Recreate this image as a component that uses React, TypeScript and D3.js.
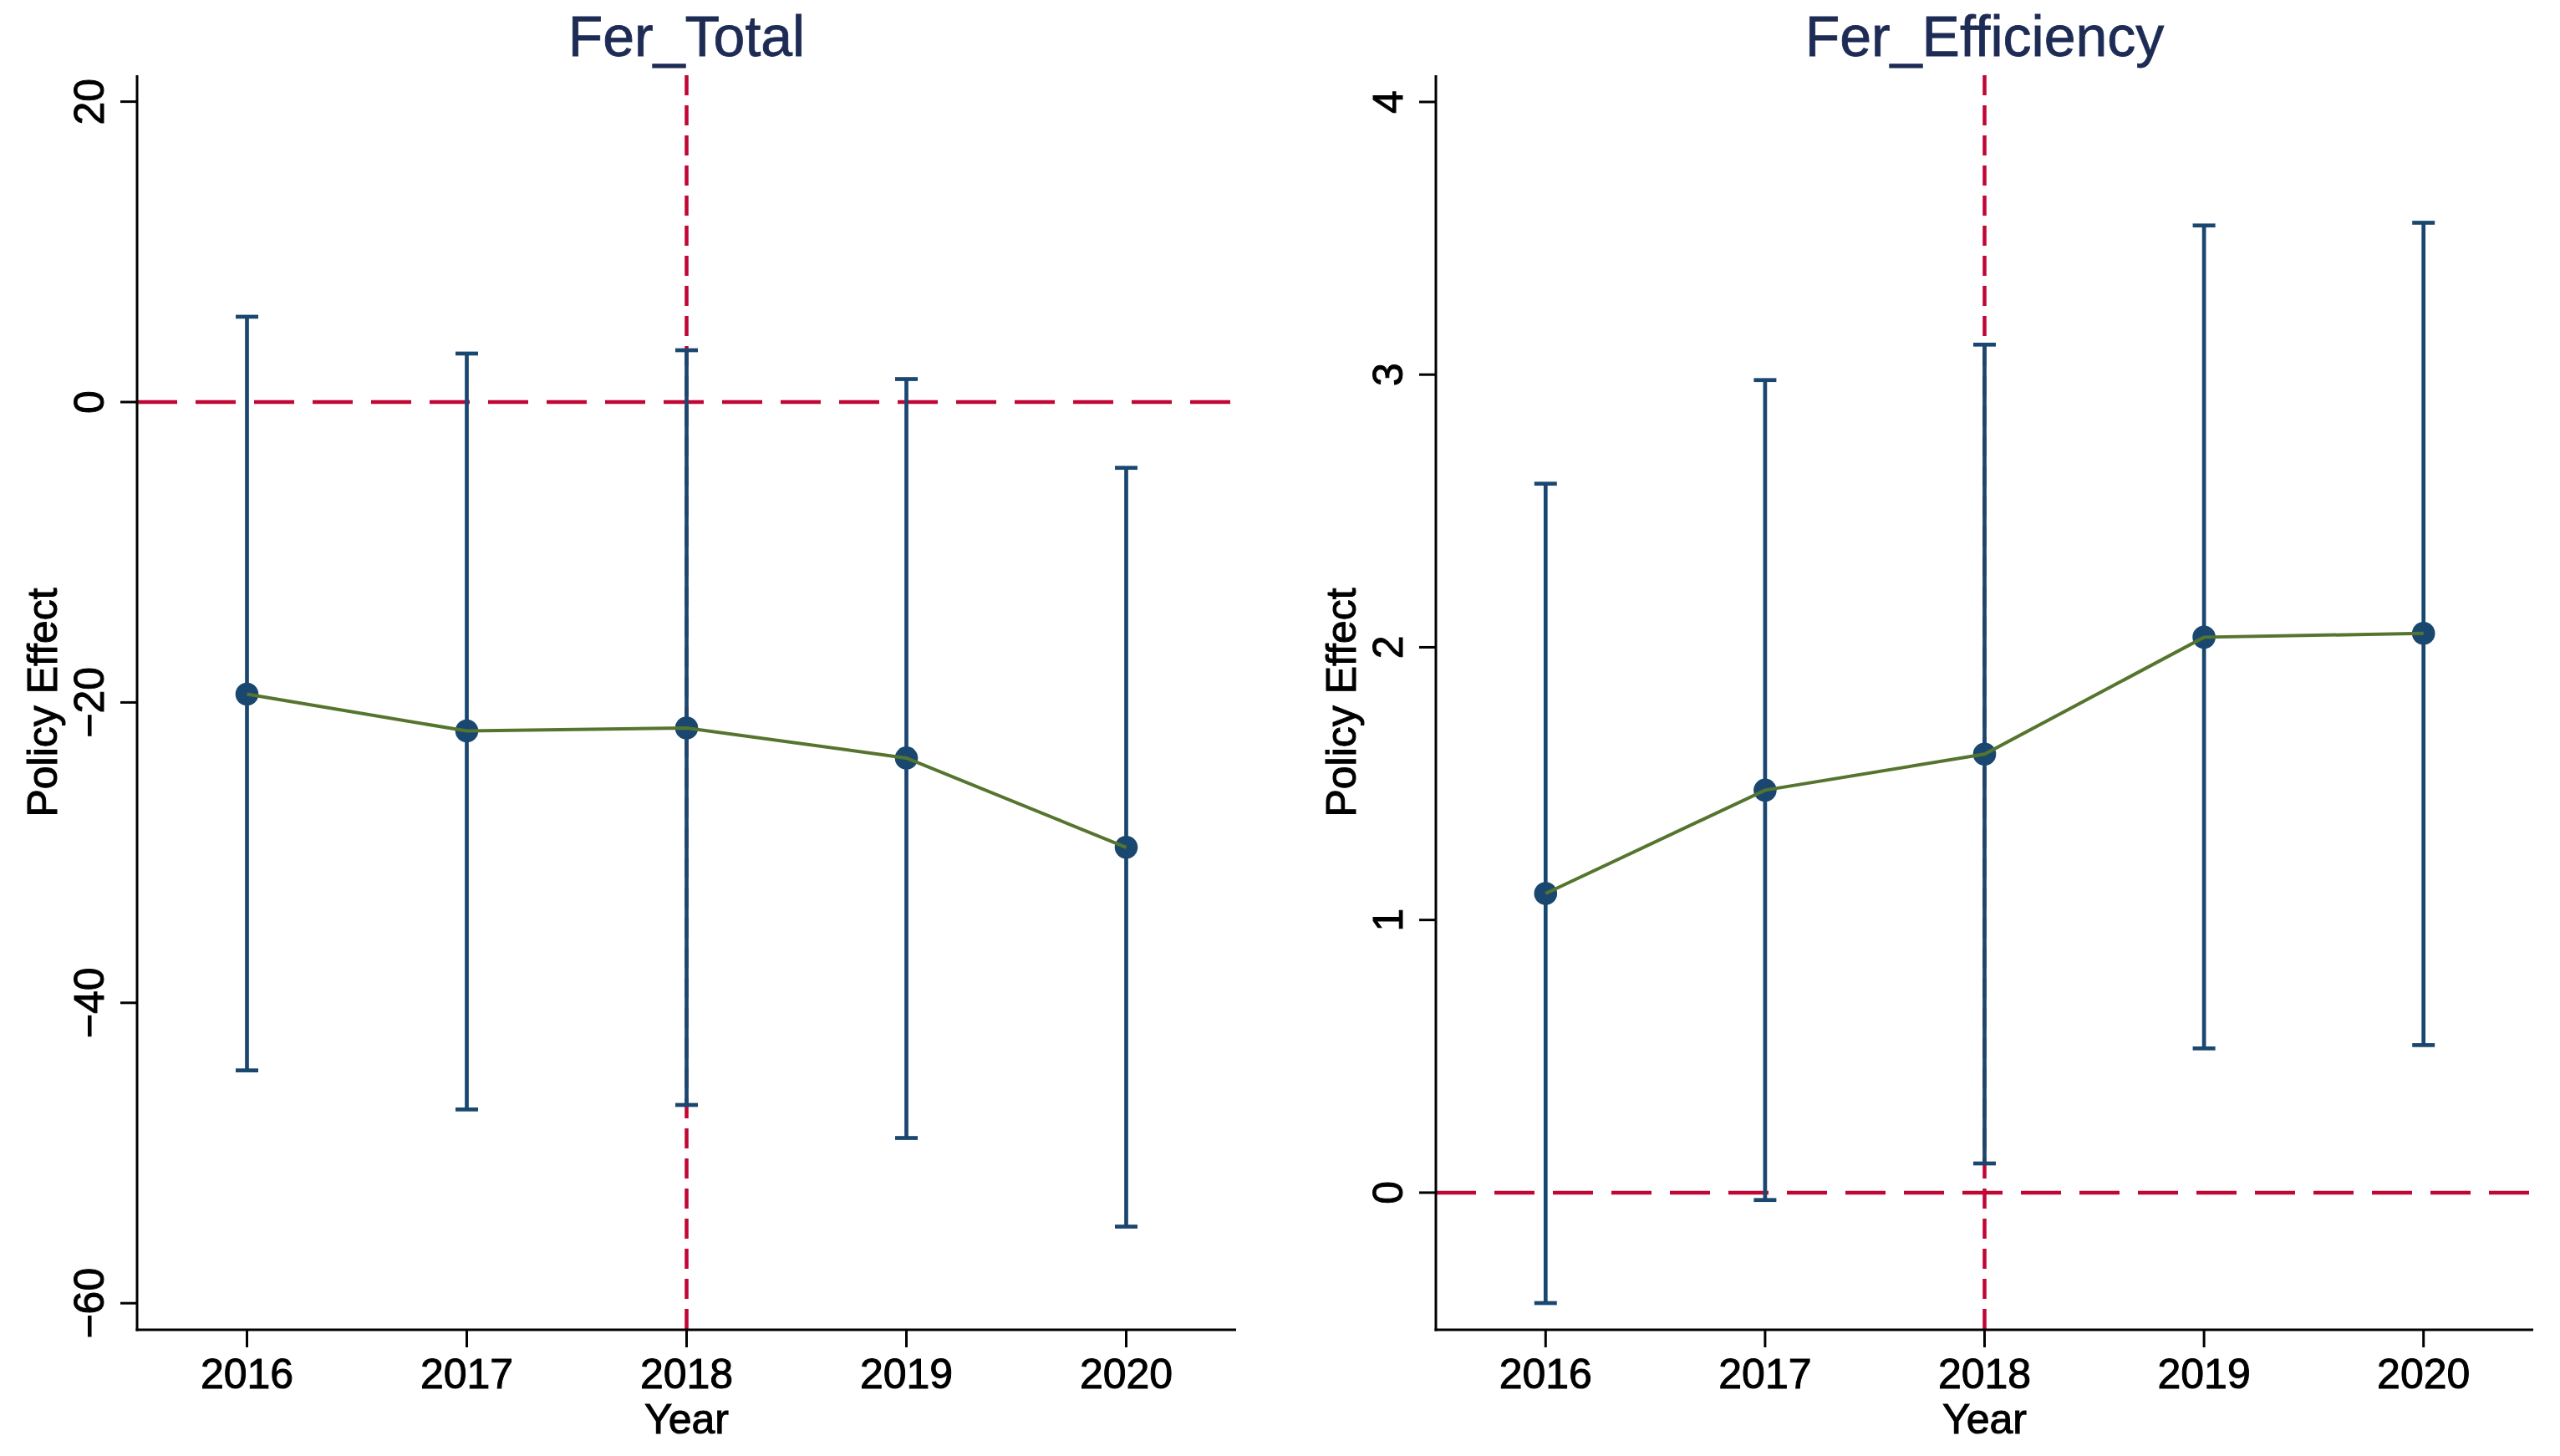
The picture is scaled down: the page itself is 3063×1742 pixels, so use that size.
import React from 'react';
import * as d3 from 'd3';

// event-study estimates
const years = [2016, 2017, 2018, 2019, 2020];
const policyYear = 2018;

const totalCoef = [-19.45, -21.9, -21.7, -23.7, -29.65];
const totalLower = [-44.5, -47.1, -46.8, -49.0, -54.9];
const totalUpper = [5.68, 3.23, 3.45, 1.53, -4.38];
const totalTicks = [-60, -40, -20, 0, 20];
const totalRange = [-61.77, 21.76];

const effCoef = [1.097, 1.476, 1.608, 2.037, 2.051];
const effLower = [-0.405, -0.027, 0.107, 0.529, 0.541];
const effUpper = [2.6, 2.98, 3.11, 3.547, 3.557];
const effTicks = [0, 1, 2, 3, 4];
const effRange = [-0.503, 4.098];

const W = 3063;
const H = 1742;
const FONT = '"Liberation Sans", Arial, Helvetica, sans-serif';
const NAVY = '#1a476f';
const GREEN = '#55752f';
const RED = '#c10534';
const TITLE = '#1e2c55';

interface PanelProps {
  title: string;
  left: number;
  right: number;
  coef: number[];
  lower: number[];
  upper: number[];
  ticks: number[];
  range: number[];
}

const top = 90;
const bottom = 1591;

function Panel({ title, left, right, coef, lower, upper, ticks, range }: PanelProps) {
  const x = d3.scaleLinear().domain([2015.5, 2020.5]).range([left, right]);
  const y = d3.scaleLinear().domain(range).range([bottom, top]);
  const line = d3.line<number>()
    .x((_, i) => x(years[i]))
    .y(d => y(d));
  const cx = (left + right) / 2;
  const cy = (top + bottom) / 2;

  return (
    <g fontFamily={FONT}>
      <text x={cx} y={67} textAnchor="middle" fontSize={68} fill={TITLE} stroke={TITLE} strokeWidth={0.8}>{title}</text>

      {/* reference lines */}
      <line x1={left} x2={right} y1={y(0)} y2={y(0)} stroke={RED} strokeWidth={4.5} strokeDasharray="48,22" />
      <line x1={x(policyYear)} x2={x(policyYear)} y1={top} y2={bottom} stroke={RED} strokeWidth={4.5} strokeDasharray="24,12" />

      {/* confidence intervals */}
      {years.map((yr, i) => (
        <g key={yr} stroke={NAVY} strokeWidth={4.7}>
          <line x1={x(yr)} x2={x(yr)} y1={y(lower[i])} y2={y(upper[i])} />
          <line x1={x(yr) - 13.5} x2={x(yr) + 13.5} y1={y(lower[i])} y2={y(lower[i])} />
          <line x1={x(yr) - 13.5} x2={x(yr) + 13.5} y1={y(upper[i])} y2={y(upper[i])} />
        </g>
      ))}
      {years.map((yr, i) => (
        <circle key={yr} cx={x(yr)} cy={y(coef[i])} r={13.8} fill={NAVY} />
      ))}
      <path d={line(coef) || ''} fill="none" stroke={GREEN} strokeWidth={4} />

      {/* axes */}
      <g fill="#000" stroke="#000" strokeWidth={1}>
        <line x1={left} x2={left} y1={top} y2={bottom + 1.5} strokeWidth={3} />
        <line x1={left - 1.5} x2={right} y1={bottom} y2={bottom} strokeWidth={3} />
        {ticks.map(t => (
          <g key={t}>
            <line x1={left - 20} x2={left} y1={y(t)} y2={y(t)} strokeWidth={3} />
            <text transform={`translate(${left - 40},${y(t)}) rotate(-90)`} textAnchor="middle" fontSize={50}>
              {t < 0 ? `\u2212${Math.abs(t)}` : t}
            </text>
          </g>
        ))}
        {years.map(yr => (
          <g key={yr}>
            <line x1={x(yr)} x2={x(yr)} y1={bottom} y2={bottom + 21} strokeWidth={3} />
            <text x={x(yr)} y={1661} textAnchor="middle" fontSize={50}>{yr}</text>
          </g>
        ))}
        <text x={cx} y={1715} textAnchor="middle" fontSize={50}>Year</text>
        <text transform={`translate(${left - 96},${cy}) rotate(-90)`} textAnchor="middle" fontSize={50}>Policy Effect</text>
      </g>
    </g>
  );
}

export default function App() {
  return (
    <div>
      <style>{'body{margin:0}'}</style>
      <svg width={W} height={H} viewBox={`0 0 ${W} ${H}`} style={{ display: 'block', background: '#fff' }}>
        <rect width={W} height={H} fill="#fff" />
        <Panel title="Fer_Total" left={164} right={1479} coef={totalCoef} lower={totalLower} upper={totalUpper} ticks={totalTicks} range={totalRange} />
        <Panel title="Fer_Efficiency" left={1718} right={3031} coef={effCoef} lower={effLower} upper={effUpper} ticks={effTicks} range={effRange} />
      </svg>
    </div>
  );
}
